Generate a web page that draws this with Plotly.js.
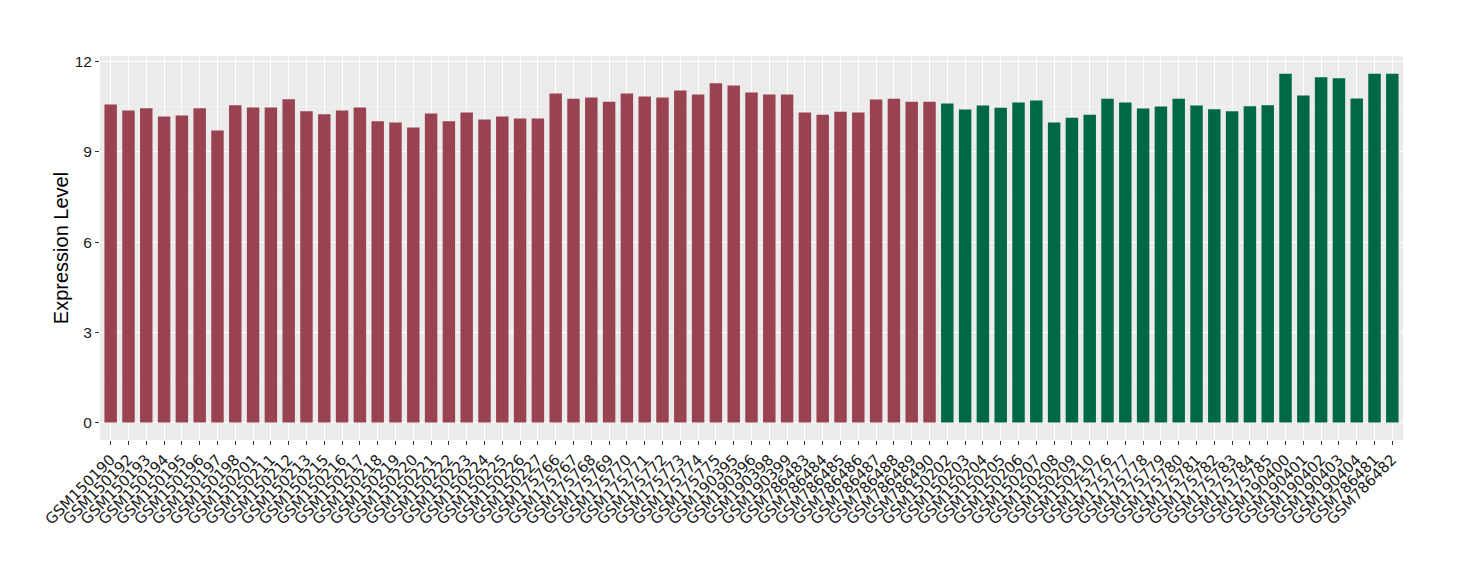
<!DOCTYPE html>
<html>
<head>
<meta charset="utf-8">
<script src="https://cdn.plot.ly/plotly-3.0.1.min.js"></script>
<style>html,body{margin:0;padding:0;background:#fff}#chart{width:1460px;height:580px}</style>
</head>
<body>
<div id="chart"></div>
<script>
const groupASamples = ["GSM150190","GSM150192","GSM150193","GSM150194","GSM150195","GSM150196","GSM150197","GSM150198","GSM150201","GSM150211","GSM150212","GSM150213","GSM150215","GSM150216","GSM150217","GSM150218","GSM150219","GSM150220","GSM150221","GSM150222","GSM150223","GSM150224","GSM150225","GSM150226","GSM150227","GSM175766","GSM175767","GSM175768","GSM175769","GSM175770","GSM175771","GSM175772","GSM175773","GSM175774","GSM175775","GSM190395","GSM190396","GSM190398","GSM190399","GSM786483","GSM786484","GSM786485","GSM786486","GSM786487","GSM786488","GSM786489","GSM786490"];
const groupAValues = [10.58,10.38,10.45,10.18,10.21,10.45,9.71,10.55,10.48,10.48,10.75,10.35,10.25,10.38,10.48,10.02,9.98,9.81,10.28,10.02,10.31,10.08,10.18,10.11,10.11,10.94,10.77,10.81,10.67,10.94,10.84,10.81,11.04,10.91,11.28,11.21,10.98,10.91,10.91,10.31,10.24,10.34,10.31,10.74,10.77,10.67,10.67];
const groupBSamples = ["GSM150202","GSM150203","GSM150204","GSM150205","GSM150206","GSM150207","GSM150208","GSM150209","GSM150210","GSM175776","GSM175777","GSM175778","GSM175779","GSM175780","GSM175781","GSM175782","GSM175783","GSM175784","GSM175785","GSM190400","GSM190401","GSM190402","GSM190403","GSM190404","GSM786481","GSM786482"];
const groupBValues = [10.61,10.41,10.54,10.47,10.64,10.71,9.98,10.14,10.24,10.77,10.64,10.44,10.51,10.77,10.54,10.42,10.35,10.52,10.55,11.6,10.88,11.48,11.45,10.78,11.6,11.6];
const yTicks = [0,3,6,9,12];

const allSamples = groupASamples.concat(groupBSamples);

const traces = [
  {type:'bar', x:groupASamples, y:groupAValues, marker:{color:'#9A4350'}, width:0.7, showlegend:false, hoverinfo:'x+y'},
  {type:'bar', x:groupBSamples, y:groupBValues, marker:{color:'#006846'}, width:0.7, showlegend:false, hoverinfo:'x+y'}
];

const layout = {
  width:1460, height:580,
  margin:{l:100, r:57, t:56, b:140},
  paper_bgcolor:'#ffffff',
  plot_bgcolor:'#EBEBEB',
  barmode:'overlay',
  font:{family:'Liberation Sans, Arial, sans-serif', color:'#333333'},
  xaxis:{
    type:'category', categoryorder:'array', categoryarray:allSamples,
    range:[-0.6, allSamples.length - 0.4],
    tickmode:'array', tickvals:allSamples, ticktext:allSamples,
    tickangle:-45, tickfont:{family:'DejaVu Sans, sans-serif', size:15, color:'#1a1a1a'},
    ticks:'outside', ticklen:4, tickcolor:'#333333', tickwidth:1,
    showgrid:true, gridcolor:'#ffffff', gridwidth:1.1,
    zeroline:false, showline:false, fixedrange:true
  },
  yaxis:{
    range:[-0.58, 12.19],
    tickvals:yTicks, ticktext:yTicks.map(String),
    tickfont:{size:15.5, color:'#1a1a1a'},
    ticks:'outside', ticklen:4, tickcolor:'#333333', tickwidth:1,
    showgrid:true, gridcolor:'#ffffff', gridwidth:1.1,
    minor:{dtick:1.5, tick0:0, showgrid:true, gridcolor:'#F6F6F6', gridwidth:0.6, ticks:''},
    zeroline:false, showline:false,
    title:{text:'Expression Level', font:{size:20, color:'#000000'}, standoff:0},
    fixedrange:true
  }
};

Plotly.newPlot('chart', traces, layout, {displayModeBar:false, staticPlot:true});
</script>
</body>
</html>
